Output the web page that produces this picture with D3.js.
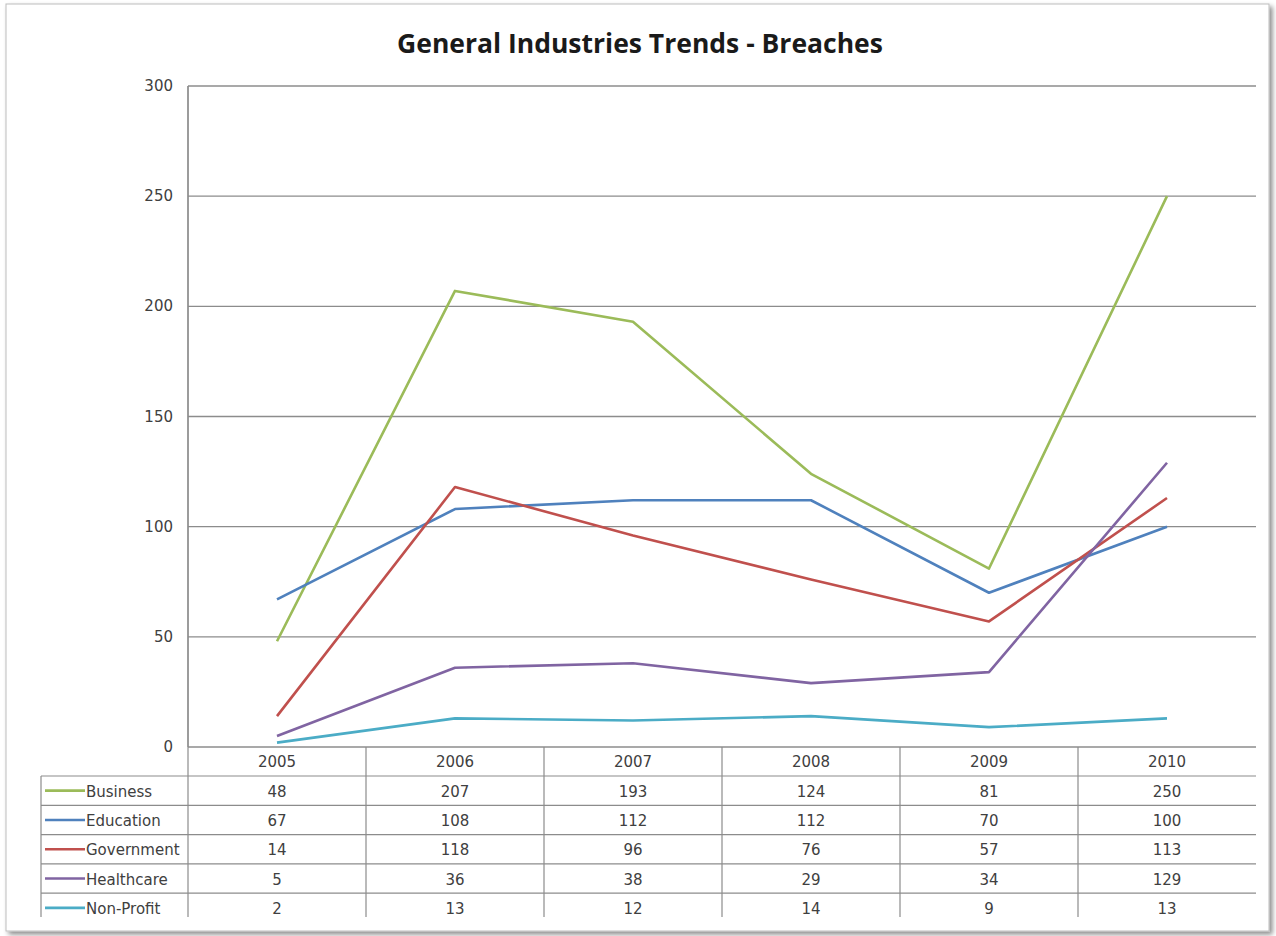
<!DOCTYPE html>
<html><head><meta charset="utf-8">
<script src="https://cdn.jsdelivr.net/npm/d3@7"></script>
<style>body{margin:0;background:#fff;}svg{display:block;}</style>
</head><body>
<svg id="c" width="1276" height="936"></svg>
<script>
const years = ["2005","2006","2007","2008","2009","2010"];
const seriesNames = ["Business","Education","Government","Healthcare","Non-Profit"];
const business   = [48, 207, 193, 124, 81, 250];
const education  = [67, 108, 112, 112, 70, 100];
const government = [14, 118, 96, 76, 57, 113];
const healthcare = [5, 36, 38, 29, 34, 129];
const nonProfit  = [2, 13, 12, 14, 9, 13];
const yTicks = [0, 50, 100, 150, 200, 250, 300];
const colors = ["#9BBB59", "#4F81BD", "#C0504D", "#8064A2", "#4BACC6"];
const seriesValues = [business, education, government, healthcare, nonProfit];

const svg = d3.select("#c");
const titleFont = "'Open Sans', 'DejaVu Sans', sans-serif";
const font = "'DejaVu Sans', Verdana, sans-serif";

// outer frame with shadow
const defs = svg.append("defs");
const f = defs.append("filter").attr("id","sh").attr("x","-5%").attr("y","-5%").attr("width","110%").attr("height","110%");
f.append("feDropShadow").attr("dx",3).attr("dy",3).attr("stdDeviation",2.5).attr("flood-color","#000").attr("flood-opacity",0.45);
svg.append("rect").attr("x",6).attr("y",4).attr("width",1263).attr("height",927)
  .attr("fill","#fff").attr("stroke","#bdbdbd").attr("stroke-width",1).attr("filter","url(#sh)");

const L = 188, R = 1256, T = 86, B = 747;
const x = d3.scaleBand().domain(years).range([L, R]);
const y = d3.scaleLinear().domain([0, 300]).range([B, T]);

// title
svg.append("text").attr("x", 640).attr("y", 53).attr("text-anchor","middle")
  .attr("font-family", titleFont).attr("font-weight","bold").attr("font-size", 26.5).attr("fill","#1a1a1a")
  .text("General Industries Trends - Breaches");

// gridlines
svg.append("g").selectAll("line").data(yTicks).join("line")
  .attr("x1", L).attr("x2", R).attr("y1", d=>y(d)).attr("y2", d=>y(d))
  .attr("stroke","#8c8c8c").attr("stroke-width",1.3);
// y axis line
svg.append("line").attr("x1",L).attr("x2",L).attr("y1",T).attr("y2",B).attr("stroke","#8c8c8c").attr("stroke-width",1.3);
// y tick labels
svg.append("g").selectAll("text").data(yTicks).join("text")
  .attr("x", 173).attr("y", d=>y(d)+5).attr("text-anchor","end")
  .attr("font-family", font).attr("font-size", 15).attr("fill","#404040").text(d=>d);

// lines
const line = d3.line().x((d,i)=>x(years[i]) + x.bandwidth()/2).y(d=>y(d));
svg.append("g").selectAll("path").data(seriesValues).join("path")
  .attr("d", d=>line(d)).attr("fill","none").attr("stroke",(d,i)=>colors[i])
  .attr("stroke-width",2.6).attr("stroke-linejoin","round");

// data table
const rowH = 29.3, headB = 776, tableL = 41, tableBottom = 917;
const grid = svg.append("g").attr("stroke","#8c8c8c").attr("stroke-width",1.2);
for (let r = 0; r < seriesNames.length; r++) {
  grid.append("line").attr("x1", tableL).attr("x2", R).attr("y1", headB + r*rowH).attr("y2", headB + r*rowH);
}
grid.append("line").attr("x1", tableL).attr("x2", tableL).attr("y1", headB).attr("y2", tableBottom);
years.forEach((yr, i) => {
  grid.append("line").attr("x1", x(yr)).attr("x2", x(yr)).attr("y1", i===0 ? T : B).attr("y2", tableBottom);
});

// header labels
svg.append("g").selectAll("text").data(years).join("text")
  .attr("x", d=>x(d)+x.bandwidth()/2).attr("y", 767).attr("text-anchor","middle")
  .attr("font-family", font).attr("font-size", 15).attr("fill","#404040").text(d=>d);

// rows
seriesNames.forEach((name, r) => {
  const cy = headB + r*rowH + rowH/2;
  svg.append("line").attr("x1", 45).attr("x2", 85).attr("y1", cy).attr("y2", cy)
    .attr("stroke", colors[r]).attr("stroke-width", 2.6);
  svg.append("text").attr("x", 86).attr("y", cy+6).attr("font-family", font).attr("font-size", 15)
    .attr("fill","#404040").text(name);
  svg.append("g").selectAll("text").data(seriesValues[r]).join("text")
    .attr("x", (d,i)=>x(years[i])+x.bandwidth()/2).attr("y", cy+6).attr("text-anchor","middle")
    .attr("font-family", font).attr("font-size", 15).attr("fill","#404040").text(d=>d);
});
</script>
</body></html>
